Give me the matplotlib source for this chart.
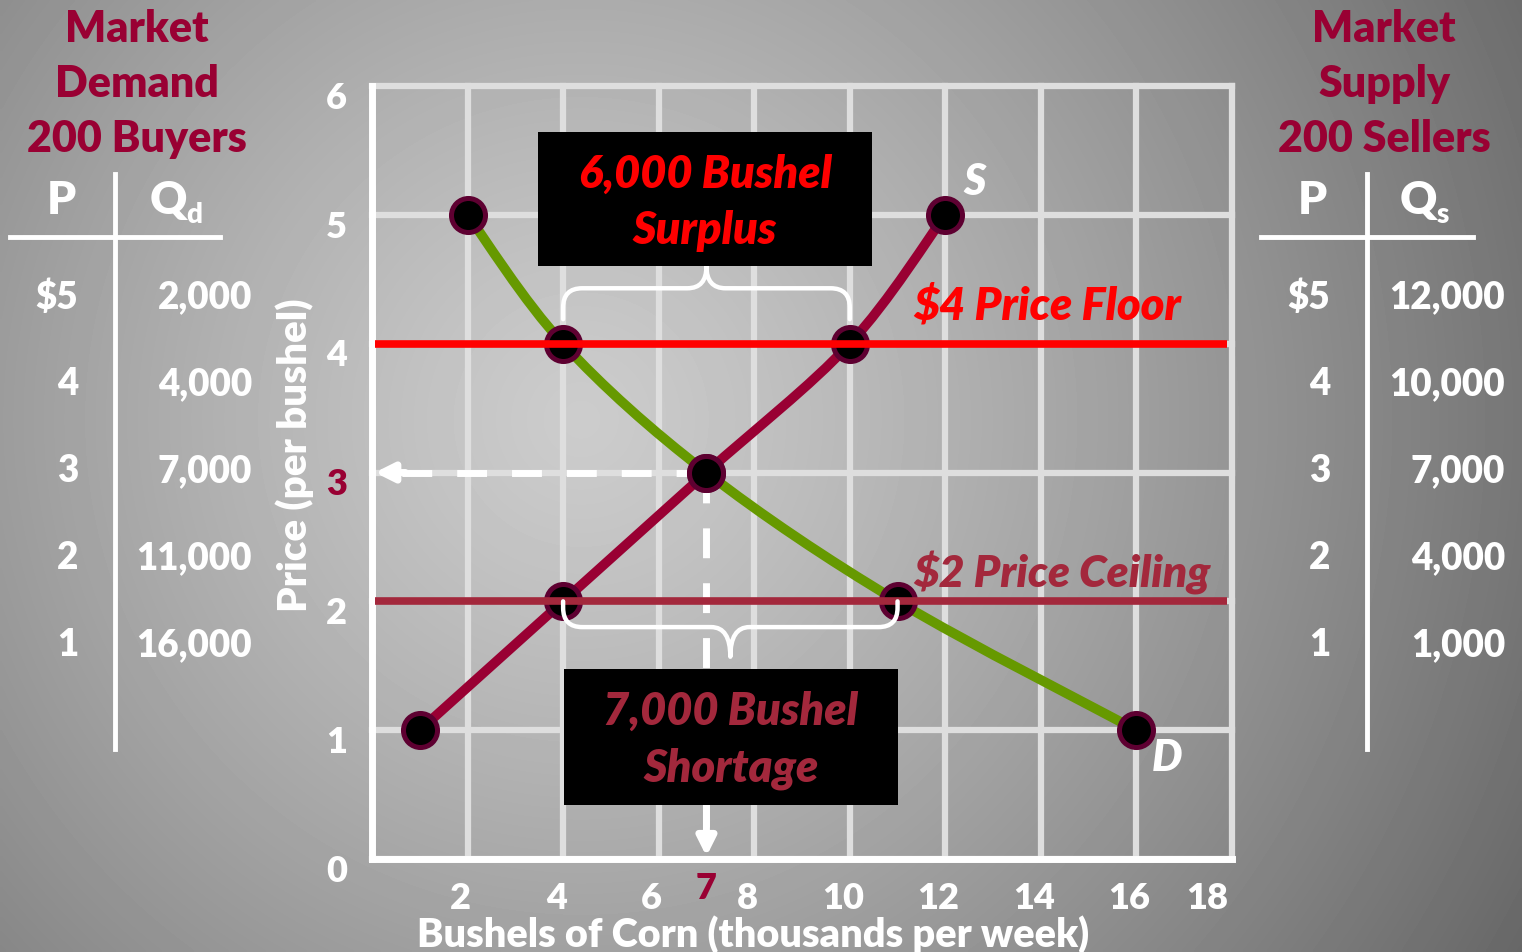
import numpy as np
import matplotlib
matplotlib.use('Agg')
import matplotlib.pyplot as plt
import matplotlib.transforms as mtransforms
from matplotlib.path import Path
from matplotlib.patches import PathPatch, Rectangle
from matplotlib.lines import Line2D

plt.rcParams['font.family'] = ['Lato', 'DejaVu Sans']
PESO = 800

# Market schedules (price in $, quantities in bushels)
precos = [5, 4, 3, 2, 1]
qtd_demanda = [2000, 4000, 7000, 11000, 16000]
qtd_oferta = [12000, 10000, 7000, 4000, 1000]
preco_piso = 4
preco_teto = 2
preco_eq = 3
qtd_eq = 7000

x_ticks = [2, 4, 6, 8, 10, 12, 14, 16, 18]
y_ticks = [0, 1, 2, 3, 4, 5, 6]

# Colours
VINHO = '#990033'
VINHO_ESC = '#5e0031'
VERDE = '#669900'
TETO = '#a3283c'
PISO = '#ff0000'
GRADE = '#dedede'

W, H = 1522, 953
fig = plt.figure(figsize=(W / 100, H / 100), dpi=100)


def fx(px):
    return px / W


def fy(py):
    return 1 - py / H


# Radial grey background
bg = fig.add_axes([0, 0, 1, 1], zorder=-10)
yy, xx = np.mgrid[0:H:4, 0:W:4]
dist = np.hypot(xx - 580, yy - 420)
grad = np.clip(0.80 - 0.36 * (dist / 1000) ** 1.2, 0, 1)
bg.imshow(grad, cmap='gray', vmin=0, vmax=1, extent=[0, W, H, 0], aspect='auto', interpolation='bilinear')
bg.axis('off')

ax = fig.add_axes([fx(372), fy(860), fx(1232) - fx(372), fy(87) - fy(860)])
ax.set_facecolor('none')
ax.set_xlim(0, 18)
ax.set_ylim(0, 6)

# Grid, spines and tick labels
ax.set_xticks(x_ticks)
ax.set_yticks(y_ticks)
ax.grid(True, color=GRADE, lw=4.5, zorder=0)
ax.set_axisbelow(True)
for gl in ax.get_xgridlines() + ax.get_ygridlines():
    gl.set_clip_on(False)
for lado in ['top', 'right']:
    ax.spines[lado].set_visible(False)
for lado in ['left', 'bottom']:
    ax.spines[lado].set_color('white')
    ax.spines[lado].set_linewidth(5)
    ax.spines[lado].set_capstyle('projecting')
    ax.spines[lado].set_zorder(2)
ax.tick_params(length=0, labelcolor='white', labelsize=26)
ax.tick_params(axis='y', pad=18)
ax.tick_params(axis='x', pad=16)

desce = mtransforms.ScaledTranslation(0, -6 / 72, fig.dpi_scale_trans)
for lbl in ax.get_yticklabels():
    lbl.set_fontweight(PESO)
    lbl.set_transform(lbl.get_transform() + desce)
    if lbl.get_text() == str(preco_eq):
        lbl.set_color(VINHO)
for lbl in ax.get_xticklabels():
    lbl.set_fontweight(PESO)
    dx = -18 if lbl.get_text() == '18' else -5
    lbl.set_transform(lbl.get_transform() + mtransforms.ScaledTranslation(dx / 72, 0, fig.dpi_scale_trans))

ax.text(qtd_eq / 1000, -0.22, str(qtd_eq // 1000), color=VINHO, fontsize=26, fontweight=PESO,
        ha='center', va='center', clip_on=False)
ax.text(-0.0895, 0.524, 'Price (per bushel)', transform=ax.transAxes, rotation=90, color='white',
        fontsize=29, fontweight=PESO, ha='center', va='center')
ax.text(0.443, -0.097, 'Bushels of Corn (thousands per week)', transform=ax.transAxes, color='white',
        fontsize=28.5, fontweight=PESO, ha='center', va='center')


def curva_suave(xs, ys):
    # Bezier segments through every point (Excel-style smoothed line)
    pts = np.column_stack([xs, ys]).astype(float)
    n = len(pts)
    verts = [pts[0]]
    codes = [Path.MOVETO]
    for i in range(n - 1):
        p_prev = pts[max(i - 1, 0)]
        p0 = pts[i]
        p1 = pts[i + 1]
        p_next = pts[min(i + 2, n - 1)]
        verts += [p0 + (p1 - p_prev) / 6, p1 - (p_next - p0) / 6, p1]
        codes += [Path.CURVE4] * 3
    return Path(verts, codes)


qd = [q / 1000 for q in qtd_demanda]
qs = [q / 1000 for q in qtd_oferta]

ax.add_patch(PathPatch(curva_suave(qd, precos), fill=False, edgecolor=VERDE, lw=7, capstyle='round', zorder=3))
ax.add_patch(PathPatch(curva_suave(qs, precos), fill=False, edgecolor=VINHO, lw=7, capstyle='round', zorder=3))

# Dashed guides from equilibrium to both axes
tracejado = (0, (4.3, 3.6))
ax.plot([qtd_eq / 1000, 0.55], [preco_eq, preco_eq], color='white', lw=5, ls=tracejado, zorder=3.5)
ax.plot([qtd_eq / 1000, qtd_eq / 1000], [preco_eq, 0.25], color='white', lw=5, ls=tracejado, zorder=3.5)
ax.annotate('', xy=(0.06, preco_eq), xytext=(0.7, preco_eq),
            arrowprops=dict(arrowstyle='-|>,head_length=1.1,head_width=0.55', color='white', lw=5,
                            shrinkA=0, shrinkB=0), zorder=3.5)
ax.annotate('', xy=(qtd_eq / 1000, 0.02), xytext=(qtd_eq / 1000, 0.45),
            arrowprops=dict(arrowstyle='-|>,head_length=1.1,head_width=0.55', color='white', lw=5,
                            shrinkA=0, shrinkB=0), zorder=3.5)

# Schedule points
todos_q = qd + qs
todos_p = precos + precos
ax.plot(todos_q, todos_p, 'o', ms=24.5, mfc='black', mec=VINHO_ESC, mew=3.6, zorder=4)

# Price floor and ceiling
ax.plot([0.06, 17.9], [preco_piso, preco_piso], color=PISO, lw=5.5, solid_capstyle='butt', zorder=5)
ax.plot([0.06, 17.9], [preco_teto, preco_teto], color=TETO, lw=5.5, solid_capstyle='butt', zorder=5)
ax.text(11.32, preco_piso + 0.30, f'${preco_piso} Price Floor', color=PISO, fontsize=32.5,
        fontweight=PESO, style='italic', ha='left', va='center', zorder=6)
ax.text(11.32, preco_teto + 0.23, f'${preco_teto} Price Ceiling', color=TETO, fontsize=32,
        fontweight=PESO, style='italic', ha='left', va='center', zorder=6)

ax.text(12.62, 5.26, 'S', color='white', fontsize=31, fontweight=PESO, style='italic',
        ha='center', va='center')
ax.text(16.65, 0.79, 'D', color='white', fontsize=31, fontweight=PESO, style='italic',
        ha='center', va='center')


def chave(x0, x1, y_pontas, y_meio, y_bico, rx=0.4, ry=0.15):
    s = np.sign(y_bico - y_meio)
    xc = (x0 + x1) / 2
    verts = [(x0, y_pontas), (x0, y_meio - s * ry),
             (x0, y_meio), (x0 + rx, y_meio),
             (xc - rx, y_meio),
             (xc, y_meio), (xc, y_bico),
             (xc, y_meio), (xc + rx, y_meio),
             (x1 - rx, y_meio),
             (x1, y_meio), (x1, y_meio - s * ry),
             (x1, y_pontas)]
    codes = [Path.MOVETO, Path.LINETO,
             Path.CURVE3, Path.CURVE3,
             Path.LINETO,
             Path.CURVE3, Path.CURVE3,
             Path.CURVE3, Path.CURVE3,
             Path.LINETO,
             Path.CURVE3, Path.CURVE3,
             Path.LINETO]
    return PathPatch(Path(verts, codes), fill=False, edgecolor='white', lw=3.2,
                     capstyle='round', joinstyle='round', zorder=6)


# Surplus at the floor, shortage at the ceiling
i_piso = precos.index(preco_piso)
i_teto = precos.index(preco_teto)
excedente = qtd_oferta[i_piso] - qtd_demanda[i_piso]
escassez = qtd_demanda[i_teto] - qtd_oferta[i_teto]

ax.add_patch(chave(qd[i_piso], qs[i_piso], 4.19, 4.43, 4.6))
ax.add_patch(chave(qs[i_teto], qd[i_teto], 2.0, 1.80, 1.57))

ax.add_patch(Rectangle((3.47, 4.60), 10.46 - 3.47, 5.64 - 4.60, facecolor='black', edgecolor='none', zorder=7))
ax.text(6.97, 5.10, f'{excedente:,} Bushel\nSurplus', color=PISO, fontsize=32.5, fontweight=PESO,
        style='italic', ha='center', va='center', linespacing=1.42, zorder=8)
ax.add_patch(Rectangle((4.02, 0.42), 11.0 - 4.02, 1.475 - 0.42, facecolor='black', edgecolor='none', zorder=7))
ax.text(7.51, 0.93, f'{escassez:,} Bushel\nShortage', color=TETO, fontsize=32.5, fontweight=PESO,
        style='italic', ha='center', va='center', linespacing=1.42, zorder=8)


# Side tables
def tabela(titulo, cx, x_p, x_q, x_sub, sub, x_lin0, x_lin1, x_vert, x_preco, x_qtd, quantidades):
    fig.text(fx(cx), fy(84), titulo, color=VINHO, fontsize=31, fontweight=PESO,
             ha='center', va='center', linespacing=1.46)
    fig.text(fx(x_p), fy(200), 'P', color='white', fontsize=33, fontweight=PESO, ha='center', va='center')
    fig.text(fx(x_q), fy(200), 'Q', color='white', fontsize=33, fontweight=PESO, ha='center', va='center')
    fig.text(fx(x_sub), fy(215), sub, color='white', fontsize=20, fontweight=PESO, ha='center', va='center')
    fig.add_artist(Line2D([fx(x_lin0), fx(x_lin1)], [fy(238), fy(238)], color='white', lw=3.5))
    fig.add_artist(Line2D([fx(x_vert), fx(x_vert)], [fy(175), fy(750)], color='white', lw=3.5))
    for i, (p, q) in enumerate(zip(precos, quantidades)):
        y = 297 + i * 87
        rot_p = f'${p}' if i == 0 else str(p)
        fig.text(fx(x_preco), fy(y), rot_p, color='white', fontsize=26.5, fontweight=PESO,
                 ha='right', va='center')
        fig.text(fx(x_qtd), fy(y), f'{q:,}', color='white', fontsize=26.5, fontweight=PESO,
                 ha='right', va='center')


tabela('Market\nDemand\n200 Buyers', 137, 61, 168, 194, 'd', 10, 220, 115, 78, 252, qtd_demanda)
tabela('Market\nSupply\n200 Sellers', 1384, 1312, 1418, 1443, 's', 1261, 1473, 1367, 1330, 1505, qtd_oferta)

fig.savefig('out.png', dpi=100)
